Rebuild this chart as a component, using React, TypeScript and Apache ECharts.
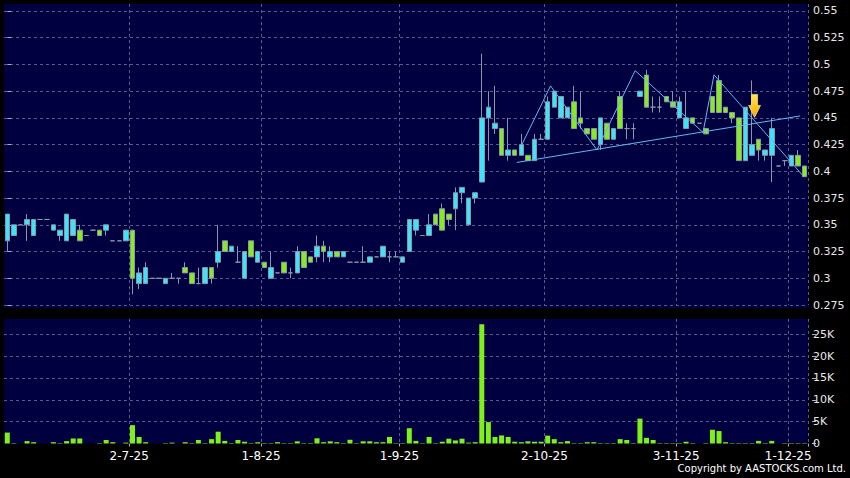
import React, { useEffect, useRef } from 'react';
import * as echarts from 'echarts';

// Daily candles: [open, close, low, high]
const candles: number[][] = [
  [0.335, 0.36, 0.325, 0.36], [0.34, 0.35, 0.34, 0.35], [0.35, 0.35, 0.35, 0.35], [0.35, 0.355, 0.335, 0.36],
  [0.34, 0.355, 0.34, 0.355], [0.355, 0.355, 0.355, 0.355], [0.355, 0.355, 0.355, 0.355], [0.345, 0.35, 0.345, 0.35],
  [0.34, 0.345, 0.335, 0.345], [0.335, 0.36, 0.335, 0.36], [0.34, 0.355, 0.34, 0.355], [0.345, 0.335, 0.335, 0.35],
  [0.34, 0.34, 0.34, 0.34], [0.345, 0.345, 0.345, 0.345], [0.345, 0.34, 0.34, 0.345], [0.345, 0.35, 0.34, 0.35],
  [0.335, 0.335, 0.335, 0.335], [0.335, 0.335, 0.335, 0.335], [0.335, 0.345, 0.335, 0.345], [0.345, 0.30, 0.285, 0.345],
  [0.295, 0.305, 0.29, 0.31], [0.295, 0.31, 0.295, 0.315], [0.30, 0.30, 0.30, 0.30], [0.30, 0.30, 0.30, 0.30],
  [0.295, 0.30, 0.295, 0.30], [0.30, 0.30, 0.30, 0.305], [0.30, 0.30, 0.295, 0.30], [0.31, 0.305, 0.305, 0.315],
  [0.305, 0.295, 0.295, 0.305], [0.295, 0.295, 0.295, 0.31], [0.295, 0.31, 0.295, 0.31], [0.31, 0.30, 0.295, 0.31],
  [0.315, 0.325, 0.31, 0.35], [0.335, 0.325, 0.325, 0.335], [0.325, 0.33, 0.325, 0.33], [0.315, 0.315, 0.315, 0.33],
  [0.30, 0.325, 0.30, 0.325], [0.335, 0.32, 0.32, 0.335], [0.315, 0.325, 0.315, 0.325], [0.315, 0.31, 0.31, 0.315],
  [0.30, 0.31, 0.30, 0.325], [0.305, 0.305, 0.305, 0.305], [0.315, 0.305, 0.305, 0.315], [0.305, 0.305, 0.30, 0.31],
  [0.305, 0.325, 0.305, 0.33], [0.325, 0.31, 0.31, 0.325], [0.32, 0.315, 0.315, 0.32], [0.32, 0.33, 0.315, 0.34],
  [0.33, 0.325, 0.315, 0.335], [0.32, 0.325, 0.315, 0.33], [0.325, 0.32, 0.32, 0.325], [0.32, 0.325, 0.32, 0.325],
  [0.315, 0.315, 0.315, 0.315], [0.315, 0.315, 0.315, 0.315], [0.315, 0.315, 0.315, 0.33], [0.315, 0.32, 0.315, 0.32],
  [0.32, 0.32, 0.32, 0.32], [0.32, 0.33, 0.32, 0.33], [0.32, 0.32, 0.315, 0.325], [0.32, 0.32, 0.32, 0.325],
  [0.315, 0.32, 0.315, 0.32], [0.325, 0.355, 0.325, 0.355], [0.345, 0.355, 0.34, 0.355], [0.34, 0.34, 0.34, 0.34],
  [0.34, 0.35, 0.34, 0.36], [0.36, 0.35, 0.35, 0.36], [0.365, 0.345, 0.345, 0.37], [0.36, 0.355, 0.35, 0.36],
  [0.365, 0.38, 0.345, 0.385], [0.38, 0.385, 0.37, 0.385], [0.35, 0.375, 0.35, 0.375], [0.375, 0.38, 0.37, 0.38],
  [0.39, 0.45, 0.39, 0.51], [0.45, 0.46, 0.41, 0.475], [0.44, 0.445, 0.435, 0.48], [0.44, 0.415, 0.415, 0.44],
  [0.415, 0.42, 0.41, 0.45], [0.42, 0.415, 0.415, 0.42], [0.415, 0.425, 0.415, 0.435], [0.415, 0.41, 0.41, 0.415],
  [0.41, 0.43, 0.41, 0.435], [0.43, 0.43, 0.43, 0.435], [0.43, 0.465, 0.43, 0.47], [0.46, 0.475, 0.46, 0.475],
  [0.45, 0.47, 0.45, 0.47], [0.45, 0.46, 0.45, 0.46], [0.465, 0.44, 0.44, 0.48], [0.45, 0.445, 0.44, 0.475],
  [0.44, 0.435, 0.435, 0.44], [0.44, 0.43, 0.43, 0.44], [0.425, 0.45, 0.42, 0.45], [0.445, 0.43, 0.43, 0.445],
  [0.43, 0.44, 0.43, 0.44], [0.47, 0.44, 0.44, 0.475], [0.44, 0.44, 0.43, 0.445], [0.44, 0.44, 0.43, 0.445],
  [0.47, 0.475, 0.47, 0.475], [0.49, 0.46, 0.46, 0.495], [0.46, 0.46, 0.455, 0.47], [0.46, 0.46, 0.455, 0.47],
  [0.47, 0.465, 0.465, 0.47], [0.465, 0.46, 0.46, 0.475], [0.45, 0.465, 0.45, 0.47], [0.44, 0.45, 0.44, 0.475],
  [0.45, 0.445, 0.445, 0.45], [0.445, 0.445, 0.445, 0.445], [0.44, 0.435, 0.435, 0.44], [0.47, 0.455, 0.455, 0.47],
  [0.485, 0.455, 0.455, 0.49], [0.46, 0.455, 0.455, 0.46], [0.455, 0.45, 0.445, 0.455], [0.45, 0.41, 0.41, 0.45],
  [0.41, 0.46, 0.41, 0.46], [0.415, 0.425, 0.415, 0.485], [0.43, 0.42, 0.41, 0.43], [0.415, 0.42, 0.41, 0.42],
  [0.415, 0.44, 0.39, 0.45], [0.405, 0.405, 0.405, 0.405], [0.41, 0.41, 0.405, 0.41], [0.405, 0.415, 0.405, 0.415],
  [0.415, 0.405, 0.405, 0.42], [0.405, 0.395, 0.395, 0.405],
];

const volumes: number[] = [
  2500, 100, 0, 550, 300, 0, 0, 300, 100, 550, 1150, 1150, 0, 0, 100, 800, 300, 0, 200, 4200,
  1500, 300, 0, 0, 100, 200, 0, 300, 100, 800, 100, 1000, 2700, 600, 100, 800, 400, 100, 300, 100,
  100, 300, 100, 100, 500, 100, 100, 1200, 300, 500, 300, 100, 850, 100, 500, 500, 300, 300, 1500, 100,
  100, 3500, 600, 100, 1500, 100, 400, 1100, 700, 1100, 200, 300, 27300, 4900, 1500, 1850, 1500, 400, 300, 500,
  400, 400, 1800, 1000, 300, 550, 100, 100, 300, 300, 100, 100, 100, 1000, 800, 100, 5700, 1300, 800, 100,
  100, 100, 100, 400, 100, 0, 100, 3150, 2850, 300, 100, 100, 100, 100, 600, 100, 600, 0, 100, 100,
  100, 100,
];

const categories = candles.map((_, i) => `d${i}`);

const tickIndices = [19, 39, 60, 82, 102, 119];
const tickLabels = ['2-7-25', '1-8-25', '1-9-25', '2-10-25', '3-11-25', '1-12-25'];

// Hand-drawn annotations in data space: [candle index, price]
const zigzagLine = [
  [78.06, 0.4247], [82.43, 0.4799], [89.48, 0.42], [95.27, 0.4942],
  [105.57, 0.4364], [107.24, 0.4902], [120.9, 0.3948],
];
const supportLine = [[77.3, 0.4083], [120.3, 0.4518]];
const arrowMark = [113.39, 0.4612];

const FONT = 'DejaVu Sans';
const NAVY = '#000040';
const GRIDLINE = '#5a5a90';
const UP = '#3ce4fa';
const DOWN = '#86ec1e';
const EDGE = '#8898a8';

export default function App() {
  const ref = useRef<HTMLDivElement>(null);

  useEffect(() => {
    if (!ref.current) return;
    const chart = echarts.init(ref.current, null, { renderer: 'svg', width: 850, height: 478 });
    const isTick = (i: number) => tickIndices.includes(i);
    const splitLine = {
      show: true,
      interval: (i: number) => isTick(i),
      lineStyle: { color: GRIDLINE, type: [3, 3] as any, width: 1 },
    };
    const hSplit = {
      show: true,
      showMaxLine: false,
      showMinLine: true,
      lineStyle: { color: GRIDLINE, type: [3, 3] as any, width: 1 },
    };

    chart.setOption({
      animation: false,
      backgroundColor: '#000000',
      graphic: [
        {
          type: 'rect',
          z: -10,
          silent: true,
          shape: { x: 4, y: 4, width: 804, height: 304 },
          style: { fill: NAVY },
        },
        {
          type: 'text',
          right: 4,
          top: 463,
          silent: true,
          style: {
            text: 'Copyright by AASTOCKS.com Ltd.',
            fill: '#ffffff',
            font: `10px "${FONT}"`,
          },
        },
      ],
      grid: [
        { left: 4, right: 42, top: 4, bottom: 173 },
        { left: 4, right: 42, top: 319, bottom: 34.5, show: true, backgroundColor: NAVY, borderWidth: 0 },
      ],
      xAxis: [
        {
          type: 'category',
          gridIndex: 0,
          data: categories,
          boundaryGap: true,
          axisLine: { show: false },
          axisTick: { show: false, interval: (i: number) => isTick(i) },
          axisLabel: { show: false },
          splitLine,
        },
        {
          type: 'category',
          gridIndex: 1,
          data: categories,
          boundaryGap: true,
          offset: 3,
          axisLine: { show: false },
          axisTick: { show: true, length: 3, interval: (i: number) => isTick(i), lineStyle: { color: '#b0b0b0' } },
          axisLabel: {
            show: true,
            interval: (i: number) => isTick(i),
            formatter: (_v: string, i: number) => {
              const k = tickIndices.indexOf(i);
              return k >= 0 ? tickLabels[k] : '';
            },
            color: '#ffffff',
            fontFamily: FONT,
            fontSize: 12,
            margin: 3,
            padding: [0, 6.6, 0, 0],
          },
          splitLine,
        },
        {
          type: 'value',
          gridIndex: 0,
          min: -0.5,
          max: candles.length - 0.5,
          show: false,
          splitLine: { show: false },
        },
      ],
      yAxis: [
        {
          type: 'value',
          gridIndex: 0,
          position: 'right',
          offset: 4,
          min: 0.275,
          max: 0.5565,
          interval: 0.025,
          axisLine: { show: false },
          axisTick: { show: true, length: 4, lineStyle: { color: '#b0b0b0' } },
          axisLabel: {
            color: '#e8e8e8',
            fontFamily: FONT,
            fontSize: 11,
            margin: 1,
            showMaxLabel: false,
            formatter: (v: number) => String(+v.toFixed(3)),
          },
          splitLine: hSplit,
        },
        {
          type: 'value',
          gridIndex: 1,
          position: 'right',
          offset: 4,
          min: 0,
          max: 28500,
          interval: 5000,
          axisLine: { show: false },
          axisTick: { show: true, length: 4, lineStyle: { color: '#b0b0b0' } },
          axisLabel: {
            color: '#e8e8e8',
            fontFamily: FONT,
            fontSize: 11,
            margin: 1,
            showMaxLabel: false,
            formatter: (v: number) => (v === 0 ? '0' : `${v / 1000}K`),
          },
          splitLine: { ...hSplit, showMinLine: false },
        },
      ],
      series: [
        {
          type: 'candlestick',
          xAxisIndex: 0,
          yAxisIndex: 0,
          data: candles,
          barWidth: 5,
          itemStyle: {
            color: UP,
            color0: DOWN,
            borderColor: EDGE,
            borderColor0: EDGE,
            borderColorDoji: EDGE,
            borderWidth: 1,
          },
        },
        {
          type: 'bar',
          xAxisIndex: 1,
          yAxisIndex: 1,
          data: volumes,
          barWidth: 5,
          itemStyle: { color: '#7ef01a' },
        },
        {
          type: 'line',
          xAxisIndex: 2,
          yAxisIndex: 0,
          data: zigzagLine,
          symbol: 'none',
          lineStyle: { color: '#62b8f2', width: 1 },
          z: 5,
        },
        {
          type: 'line',
          xAxisIndex: 2,
          yAxisIndex: 0,
          data: supportLine,
          symbol: 'none',
          lineStyle: { color: '#62b8f2', width: 1 },
          z: 5,
        },
        {
          type: 'scatter',
          xAxisIndex: 2,
          yAxisIndex: 0,
          data: [arrowMark],
          symbol: 'path://M3,0L9,0L9,11L12,11L6,23L0,11L3,11Z',
          symbolSize: [12, 23],
          itemStyle: {
            color: new echarts.graphic.LinearGradient(0, 0, 0, 1, [
              { offset: 0, color: '#ffe84a' },
              { offset: 0.6, color: '#ffc21a' },
              { offset: 1, color: '#ffa000' },
            ]),
            borderColor: '#fff0a0',
            borderWidth: 0.6,
            opacity: 1,
          },
          z: 6,
        },
      ],
    });
    return () => chart.dispose();
  }, []);

  return <div ref={ref} style={{ position: 'fixed', left: 0, top: 0, width: 850, height: 478 }} />;
}
